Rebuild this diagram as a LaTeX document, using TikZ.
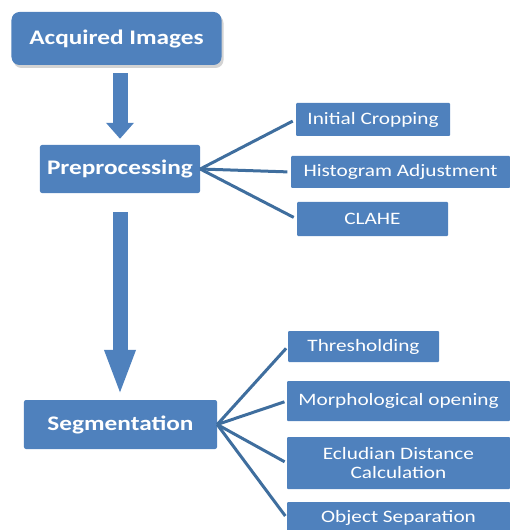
\documentclass[tikz,border=0pt]{standalone}
\usepackage{fontspec}
\newfontfamily\boxfont[FakeStretch=1.22]{Carlito}
\usetikzlibrary{arrows.meta,shadows}
\definecolor{boxblue}{HTML}{4F81BD}
\definecolor{lineblue}{HTML}{3F6E9E}

\begin{document}
\begin{tikzpicture}[x=1bp,y=-1bp,
	mainbox/.style={fill=boxblue,text=white,inner sep=0pt,rounded corners=2bp,
		font=\boxfont\bfseries\fontsize{20.8}{24}\selectfont},
	subbox/.style={fill=boxblue,text=white,inner sep=0pt,rounded corners=1bp,align=center,
		font=\boxfont\fontsize{17.5}{20}\selectfont},
	branch/.style={draw=lineblue,line width=3bp,shorten >=3.5bp},
	bigarrow/.style={draw=boxblue,fill=boxblue,line width=15bp}]
	\path[use as bounding box,clip] (0,0) rectangle (510,530);
	
	%main boxes
	\node[mainbox,rounded corners=8bp,minimum width=210bp,minimum height=53bp,
		drop shadow={shadow xshift=2bp,shadow yshift=-3bp,opacity=0.35}] (acq) at (116.5,38.5) {Acquired Images};
	\node[mainbox,minimum width=160bp,minimum height=48bp] (pre) at (120,169) {Preprocessing};
	\node[mainbox,minimum width=193bp,minimum height=49bp] (seg) at (120.5,424.5) {Segmentation};
	
	%preprocessing steps
	\node[subbox,minimum width=154bp,minimum height=33bp] (crop)  at (373,119.5) {Initial Cropping};
	\node[subbox,minimum width=219bp,minimum height=32bp] (hist)  at (400.5,172) {Histogram Adjustment};
	\node[subbox,minimum width=151bp,minimum height=34bp] (clahe) at (372.5,219) {CLAHE};
	
	%segmentation steps
	\node[subbox,minimum width=151bp,minimum height=31bp] (thr)   at (363.5,346.5) {Thresholding};
	\node[subbox,minimum width=223bp,minimum height=40bp] (morph) at (398.5,401) {Morphological opening};
	\node[subbox,minimum width=223bp,minimum height=52bp] (eucl)  at (398.5,463) {Ecludian Distance\\Calculation};
	\node[subbox,minimum width=223bp,minimum height=32bp] (obj)   at (398.5,518) {Object Separation};
	
	%arrows
	\draw[bigarrow,-{Triangle[length=16bp,width=27bp]},shorten <=8bp,shorten >=6bp] (acq.south -| pre.north) -- (pre.north);	%acq--pre
	\draw[bigarrow,-{Triangle[length=46bp,width=28bp]},shorten <=19bp,shorten >=4bp] (pre.south) -- (pre.south |- seg.north);	%pre--seg
	
	%branches
	\foreach \n in {crop,hist,clahe}
		\draw[branch] (pre.east) -- (\n.west);
	\foreach \n in {thr,morph,eucl,obj}
		\draw[branch,shorten >=2.5bp] (seg.east) -- (\n.west);
\end{tikzpicture}
\end{document}
